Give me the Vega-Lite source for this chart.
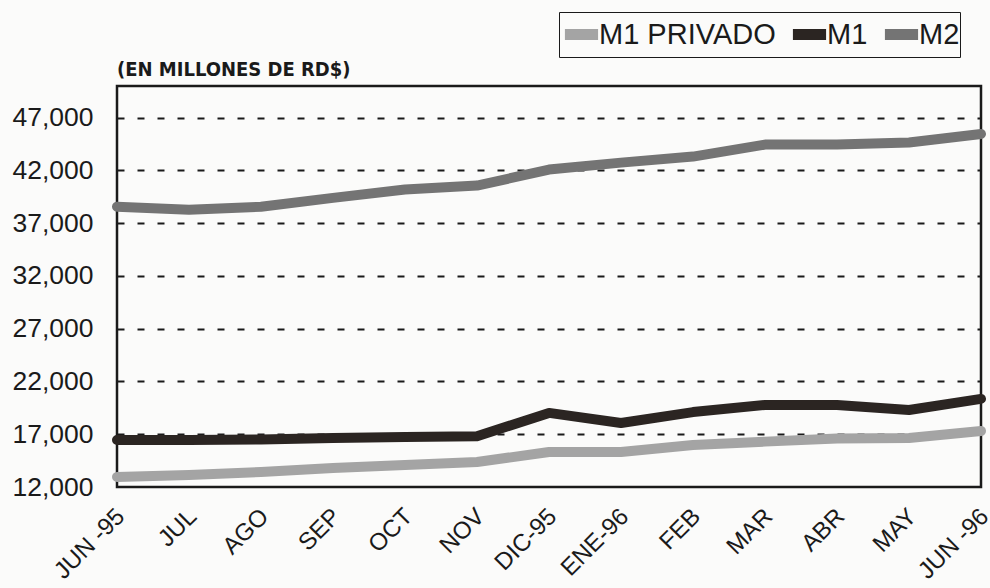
{
  "$schema": "https://vega.github.io/schema/vega-lite/v6.json",
  "width": 864,
  "height": 401,
  "autosize": {"type": "none"},
  "padding": {"left": 117, "top": 86, "right": 9, "bottom": 101},
  "background": "#fbfbfa",
  "config": {
    "font": "Liberation Sans",
    "view": {"stroke": "#1a1a1a", "strokeWidth": 2.5}
  },
  "data": {
    "values": [
      {"mes": "JUN -95", "serie": "M1 PRIVADO", "valor": 12950},
      {"mes": "JUL", "serie": "M1 PRIVADO", "valor": 13140},
      {"mes": "AGO", "serie": "M1 PRIVADO", "valor": 13420},
      {"mes": "SEP", "serie": "M1 PRIVADO", "valor": 13800},
      {"mes": "OCT", "serie": "M1 PRIVADO", "valor": 14090},
      {"mes": "NOV", "serie": "M1 PRIVADO", "valor": 14370},
      {"mes": "DIC-95", "serie": "M1 PRIVADO", "valor": 15320},
      {"mes": "ENE-96", "serie": "M1 PRIVADO", "valor": 15320},
      {"mes": "FEB", "serie": "M1 PRIVADO", "valor": 15980},
      {"mes": "MAR", "serie": "M1 PRIVADO", "valor": 16300},
      {"mes": "ABR", "serie": "M1 PRIVADO", "valor": 16600},
      {"mes": "MAY", "serie": "M1 PRIVADO", "valor": 16650},
      {"mes": "JUN -96", "serie": "M1 PRIVADO", "valor": 17310},
      {"mes": "JUN -95", "serie": "M1", "valor": 16460},
      {"mes": "JUL", "serie": "M1", "valor": 16460},
      {"mes": "AGO", "serie": "M1", "valor": 16500},
      {"mes": "SEP", "serie": "M1", "valor": 16650},
      {"mes": "OCT", "serie": "M1", "valor": 16740},
      {"mes": "NOV", "serie": "M1", "valor": 16800},
      {"mes": "DIC-95", "serie": "M1", "valor": 19020},
      {"mes": "ENE-96", "serie": "M1", "valor": 18070},
      {"mes": "FEB", "serie": "M1", "valor": 19100},
      {"mes": "MAR", "serie": "M1", "valor": 19780},
      {"mes": "ABR", "serie": "M1", "valor": 19780},
      {"mes": "MAY", "serie": "M1", "valor": 19300},
      {"mes": "JUN -96", "serie": "M1", "valor": 20350},
      {"mes": "JUN -95", "serie": "M2", "valor": 38560},
      {"mes": "JUL", "serie": "M2", "valor": 38280},
      {"mes": "AGO", "serie": "M2", "valor": 38560},
      {"mes": "SEP", "serie": "M2", "valor": 39400},
      {"mes": "OCT", "serie": "M2", "valor": 40200},
      {"mes": "NOV", "serie": "M2", "valor": 40560},
      {"mes": "DIC-95", "serie": "M2", "valor": 42080},
      {"mes": "ENE-96", "serie": "M2", "valor": 42740},
      {"mes": "FEB", "serie": "M2", "valor": 43310},
      {"mes": "MAR", "serie": "M2", "valor": 44450},
      {"mes": "ABR", "serie": "M2", "valor": 44450},
      {"mes": "MAY", "serie": "M2", "valor": 44640},
      {"mes": "JUN -96", "serie": "M2", "valor": 45450}
    ]
  },
  "title": {
    "text": "(EN MILLONES DE RD$)",
    "anchor": "start",
    "frame": "group",
    "font": "DejaVu Sans Condensed, Liberation Sans",
    "fontSize": 20,
    "fontWeight": "bold",
    "color": "#1a1a1a",
    "offset": 8,
    "dy": 76
  },
  "mark": {"type": "line", "strokeWidth": 10, "strokeCap": "round", "strokeJoin": "round"},
  "encoding": {
    "x": {
      "field": "mes",
      "type": "ordinal",
      "sort": ["JUN -95", "JUL", "AGO", "SEP", "OCT", "NOV", "DIC-95", "ENE-96", "FEB", "MAR", "ABR", "MAY", "JUN -96"],
      "scale": {"type": "point", "padding": 0},
      "axis": {
        "title": null,
        "labelAngle": -45,
        "labelFontSize": 24,
        "labelColor": "#1a1a1a",
        "labelPadding": 17,
        "labelOffset": -5,
        "labelBound": false,
        "ticks": false,
        "domain": false,
        "grid": false
      }
    },
    "y": {
      "field": "valor",
      "type": "quantitative",
      "scale": {"domain": [12000, 50000], "nice": false, "zero": false},
      "axis": {
        "title": null,
        "values": [12000, 17000, 22000, 27000, 32000, 37000, 42000, 47000],
        "format": ",d",
        "labelFontSize": 26.5,
        "labelColor": "#1a1a1a",
        "labelPadding": 24,
        "ticks": false,
        "domain": false,
        "grid": true,
        "gridColor": "#1a1a1a",
        "gridDash": [7, 13],
        "gridWidth": 2,
        "gridOpacity": {"condition": {"test": "datum.value === 12000", "value": 0}, "value": 1}
      }
    },
    "color": {
      "field": "serie",
      "type": "nominal",
      "sort": ["M1 PRIVADO", "M1", "M2"],
      "scale": {"domain": ["M1 PRIVADO", "M1", "M2"], "range": ["#a4a4a4", "#2b2522", "#747474"]},
      "legend": {
        "title": null,
        "orient": "none",
        "legendX": 442,
        "legendY": -74,
        "direction": "horizontal",
        "gridAlign": "none",
        "symbolType": "stroke",
        "symbolStrokeWidth": 11,
        "symbolSize": 1100,
        "labelFontSize": 29,
        "labelLimit": 400,
        "labelColor": "#1a1a1a",
        "labelOffset": -5,
        "columnPadding": -6,
        "strokeColor": "#1a1a1a",
        "padding": 0,
        "fillColor": "#fbfbfa"
      }
    }
  }
}
